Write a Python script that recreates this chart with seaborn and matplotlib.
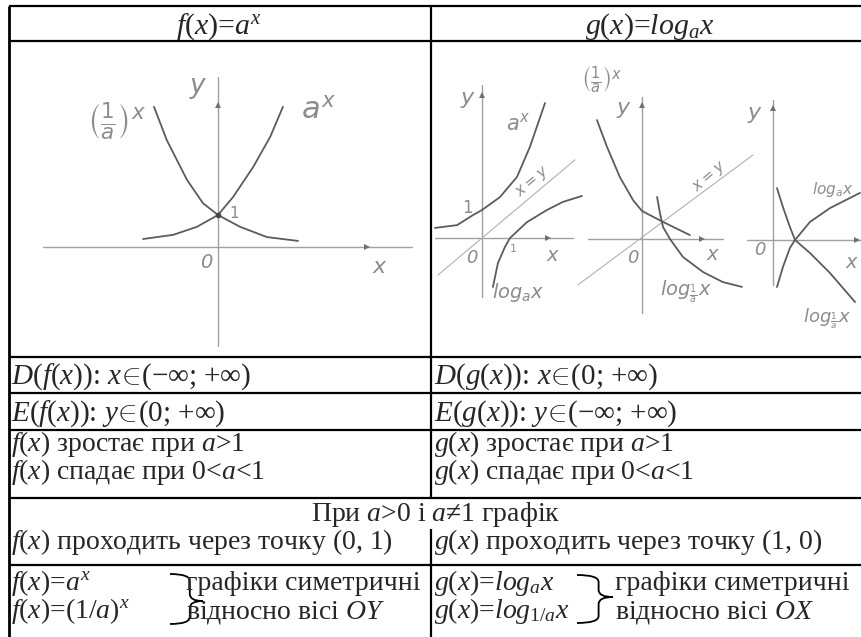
import numpy as np
import pandas as pd
import matplotlib
matplotlib.use("Agg")
import matplotlib.pyplot as plt
import seaborn as sns
from matplotlib.lines import Line2D
from matplotlib.path import Path
from matplotlib.patches import PathPatch

# ---------------- data (math units) ----------------
# Panel A : a^x and (1/a)^x
a_exp_x = [-2.34, -1.4, -0.66, 0.0, 0.47, 1.1, 1.63, 2.03]
a_exp_y = [0.25, 0.38, 0.63, 1.0, 1.56, 2.5, 3.44, 4.38]
a_inv_x = [-2.0, -1.6, -0.97, -0.47, 0.0, 0.69, 1.53, 2.5]
a_inv_y = [4.38, 3.34, 2.1, 1.37, 1.0, 0.63, 0.31, 0.19]

# Panel B1 : a^x, log_a x, x=y
b1_exp_x = [-1.68, -0.89, -0.32, 0.0, 0.64, 1.25, 1.71, 2.25]
b1_exp_y = [0.36, 0.46, 0.82, 1.0, 1.46, 2.18, 3.25, 4.82]
b1_log_x = [0.39, 0.57, 0.82, 1.0, 1.61, 2.32, 2.89, 3.57]
b1_log_y = [-1.75, -0.89, -0.32, 0.0, 0.57, 1.0, 1.29, 1.5]
b1_diag_x = [-1.57, 3.32]
b1_diag_y = [-1.32, 2.79]

# Panel B2 : (1/a)^x, log_{1/a} x, x=y
b2_exp_x = [-1.61, -1.25, -0.79, -0.32, 0.0, 0.75, 1.71]
b2_exp_y = [4.25, 3.29, 2.21, 1.39, 1.0, 0.61, 0.14]
b2_log_x = [0.54, 0.64, 0.75, 1.0, 1.46, 2.18, 2.89, 3.57]
b2_log_y = [1.5, 0.93, 0.43, 0.0, -0.64, -1.18, -1.54, -1.71]
b2_diag_x = [-2.29, 3.96]
b2_diag_y = [-1.64, 3.0]

# Panel B3 : log_a x and log_{1/a} x
b3_inc_x = [0.18, 0.45, 0.77, 1.0, 1.68, 2.59, 3.95]
b3_inc_y = [-2.14, -1.23, -0.36, 0.0, 0.82, 1.45, 2.14]
b3_dec_x = [0.18, 0.45, 0.77, 1.0, 1.68, 2.59, 3.73]
b3_dec_y = [2.36, 1.5, 0.59, 0.0, -0.59, -1.5, -2.82]

# sketch axes: (x-axis from, to, arrow), (y-axis from, to, arrow)
a_axes = ([-5.47, 6.06, 4.66], [-3.1, 5.31, 4.44])
b1_axes = ([-1.68, 3.25, 2.36], [-2.1, 5.46, 5.1])
b2_axes = ([-1.93, 2.89, 2.14], [-2.64, 5.07, 4.79])
b3_axes = ([-1.18, 4.2, 3.82], [-2.05, 6.36, 6.0])

# table texts
header_left = r"$f$($x$)=$a^x$"
header_right = r"$g$($x$)=$log_a x$"
left_de = [r"$D$($f$($x$)): $x\!\in\!$(−∞; +∞)",
           r"$E$($f$($x$)): $y\!\in\!$(0; +∞)"]
right_de = [r"$D$($g$($x$)): $x\!\in\!$(0; +∞)",
            r"$E$($g$($x$)): $y\!\in\!$(−∞; +∞)"]
left_rows = [r"$f$($x$) зростає при $a$>1",
             r"$f$($x$) спадає при 0<$a$<1",
             r"$f$($x$) проходить через точку (0, 1)",
             r"$f$($x$)=$a^x$",
             r"$f$($x$)=(1/$a\mathrm{)}^x$"]
right_rows = [r"$g$($x$) зростає при $a$>1",
              r"$g$($x$) спадає при 0<$a$<1",
              r"$g$($x$) проходить через точку (1, 0)",
              r"$g$($x$)=$log_a x$",
              r"$g$($x$)=$log_{1/a} x$"]
merged_row = r"При $a$>0 і $a$≠1 графік"
sym_left = ["графіки симетричні", r"відносно вісі $OY$"]
sym_right = ["графіки симетричні", r"відносно вісі $OX$"]

# ---------------- style ----------------
sns.set_theme(style="white")
plt.rcParams['font.family'] = ['Liberation Serif', 'DejaVu Serif']
plt.rcParams['mathtext.fontset'] = 'custom'
plt.rcParams['mathtext.rm'] = 'Liberation Serif'
plt.rcParams['mathtext.it'] = 'Liberation Serif:italic'
plt.rcParams['mathtext.bf'] = 'Liberation Serif:bold'
plt.rcParams['mathtext.fallback'] = 'cm'

W, H = 861, 637
fig = plt.figure(figsize=(W / 100, H / 100), dpi=100)
fig.patch.set_facecolor('white')


def fx(px):
    return px / W


def fy(py):
    return 1 - py / H


def hline(y, x0=9, x1=861, lw=1.6):
    fig.add_artist(Line2D([fx(x0), fx(x1)], [fy(y), fy(y)], transform=fig.transFigure,
                          color='black', lw=lw, solid_capstyle='butt'))


def vline(x, y0, y1, lw=1.6):
    fig.add_artist(Line2D([fx(x), fx(x)], [fy(y0), fy(y1)], transform=fig.transFigure,
                          color='black', lw=lw, solid_capstyle='butt'))


# table grid
for y in [6, 41, 357, 393, 430, 498, 565]:
    hline(y)
vline(9, 6, 637, lw=2.0)
vline(431, 6, 498)
vline(431, 529, 637)

FS = 20
FS_DE = 21
FS_HEAD = 21.5
# headers
fig.text(fx(219), fy(34), header_left, fontsize=FS_HEAD, ha='center', va='baseline')
fig.text(fx(650), fy(34), header_right, fontsize=FS_HEAD, ha='center', va='baseline')

for s, yb in zip(left_de, [384, 421]):
    fig.text(fx(11), fy(yb), s, fontsize=FS_DE, ha='left', va='baseline')
for s, yb in zip(right_de, [384, 421]):
    fig.text(fx(434), fy(yb), s, fontsize=FS_DE, ha='left', va='baseline')

baselines = [451, 479, 549, 590, 618]
for s, yb in zip(left_rows, baselines):
    fig.text(fx(11), fy(yb), s, fontsize=FS, ha='left', va='baseline')
for s, yb in zip(right_rows, baselines):
    fig.text(fx(434), fy(yb), s, fontsize=FS, ha='left', va='baseline')
fig.text(fx(436), fy(521), merged_row, fontsize=FS, ha='center', va='baseline')
for s, yb in zip(sym_left, [590, 618]):
    fig.text(fx(186), fy(yb), s, fontsize=FS, ha='left', va='baseline')
for s, yb in zip(sym_right, [590, 618]):
    fig.text(fx(615), fy(yb), s, fontsize=FS, ha='left', va='baseline')


def brace(x0, x1, ytop, ymid, ybot, r=7):
    xm = x0 + (x1 - x0) * 0.6
    pts = [(x0, ytop), (xm, ytop), (xm, ytop + r), (xm, ymid - r), (xm, ymid), (x1, ymid),
           (xm, ymid), (xm, ymid + r), (xm, ybot - r), (xm, ybot), (x0, ybot)]
    codes = [Path.MOVETO, Path.CURVE3, Path.CURVE3, Path.LINETO, Path.CURVE3, Path.CURVE3,
             Path.CURVE3, Path.CURVE3, Path.LINETO, Path.CURVE3, Path.CURVE3]
    verts = [(fx(px), fy(py)) for px, py in pts]
    fig.add_artist(PathPatch(Path(verts, codes), transform=fig.transFigure, fill=False,
                             edgecolor='black', lw=1.3))


brace(170, 203, 574, 601, 624)
brace(577, 613, 575, 597, 623)

# ---------------- sketch panels ----------------
CURVE = '#5c5c5c'
AXC = '#a0a0a0'
LAB = '#8c8c8c'


def panel(px0, px1, py0, py1, ox, oy, unit):
    ax = fig.add_axes([fx(px0), fy(py1), (px1 - px0) / W, (py1 - py0) / H])
    ax.set_xlim((px0 - ox) / unit, (px1 - ox) / unit)
    ax.set_ylim((oy - py1) / unit, (oy - py0) / unit)
    ax.axis('off')
    ax.patch.set_alpha(0)
    return ax


def curve(ax, xs, ys, color=CURVE, lw=1.3):
    df = pd.DataFrame({'x': xs, 'y': ys})
    sns.lineplot(data=df, x='x', y='y', ax=ax, sort=False, estimator=None,
                 color=color, lw=lw, legend=False)


def sketch_axes(ax, spec, ms=5):
    (xa0, xa1, xarr), (ya0, ya1, yarr) = spec
    curve(ax, [xa0, xa1], [0, 0], color=AXC, lw=1.0)
    curve(ax, [0, 0], [ya0, ya1], color=AXC, lw=1.0)
    ax.plot([xarr], [0], marker='>', ms=ms, color='#707070', mew=0)
    ax.plot([0], [yarr], marker='^', ms=ms, color='#707070', mew=0)


def lab(ax, x, y, s, size=13, rot=0):
    ax.text(x, y, s, fontsize=size, color=LAB, ha='center', va='center',
            math_fontfamily='dejavusans', rotation=rot, fontstyle='italic',
            family='DejaVu Sans')


# Panel A
axA = panel(10, 431, 41, 357, 218, 247, 32)
sketch_axes(axA, a_axes)
curve(axA, a_exp_x, a_exp_y)
curve(axA, a_inv_x, a_inv_y)
axA.plot([0], [1], 'o', ms=3, color='#444444')
lab(axA, -3.16, 3.9, r"$\left(\frac{1}{a}\right)^x$", size=22)
lab(axA, 3.13, 4.28, r"$a^x$", size=22)
lab(axA, -0.63, 4.97, r"$y$", size=19)
lab(axA, 0.5, 1.06, r"$1$", size=11)
lab(axA, -0.38, -0.5, "0", size=14)
lab(axA, 5.06, -0.63, r"$x$", size=16)

# Panel B1
axB1 = panel(431, 590, 41, 357, 482, 238, 28)
sketch_axes(axB1, b1_axes, ms=4.5)
curve(axB1, b1_diag_x, b1_diag_y, color='#b0b0b0', lw=0.8)
curve(axB1, b1_exp_x, b1_exp_y)
curve(axB1, b1_log_x, b1_log_y)
lab(axB1, -0.5, 4.93, r"$y$", size=16)
lab(axB1, 1.29, 4.1, r"$a^x$", size=15)
lab(axB1, 1.82, 2.0, r"$x=y$", size=11, rot=40)
lab(axB1, -0.5, 1.07, r"$1$", size=12)
lab(axB1, -0.36, -0.71, "0", size=13)
lab(axB1, 1.1, -0.36, r"$1$", size=8)
lab(axB1, 2.54, -0.61, r"$x$", size=14)
lab(axB1, 1.29, -1.93, r"$log_a x$", size=14)

# Panel B2
axB2 = panel(575, 760, 41, 357, 642, 239, 28)
sketch_axes(axB2, b2_axes, ms=4.5)
curve(axB2, b2_diag_x, b2_diag_y, color='#b0b0b0', lw=0.8)
curve(axB2, b2_exp_x, b2_exp_y)
curve(axB2, b2_log_x, b2_log_y)
lab(axB2, -1.43, 5.68, r"$\left(\frac{1}{a}\right)^x$", size=15)
lab(axB2, -0.64, 4.6, r"$y$", size=16)
lab(axB2, 2.43, 2.2, r"$x=y$", size=11, rot=40)
lab(axB2, -0.32, -0.68, "0", size=13)
lab(axB2, 2.54, -0.57, r"$x$", size=14)
lab(axB2, 1.55, -1.89, r"$log_{\frac{1}{a}} x$", size=14)

# Panel B3
axB3 = panel(745, 861, 41, 357, 773, 240, 22)
sketch_axes(axB3, b3_axes, ms=4.5)
curve(axB3, b3_inc_x, b3_inc_y)
curve(axB3, b3_dec_x, b3_dec_y)
lab(axB3, -0.82, 5.68, r"$y$", size=16)
lab(axB3, -0.59, -0.45, "0", size=13)
lab(axB3, 3.6, -1.0, r"$x$", size=14)
lab(axB3, 2.7, 2.3, r"$log_a x$", size=11)
lab(axB3, 2.45, -3.6, r"$log_{\frac{1}{a}} x$", size=13)

fig.savefig("out.png", dpi=100)
